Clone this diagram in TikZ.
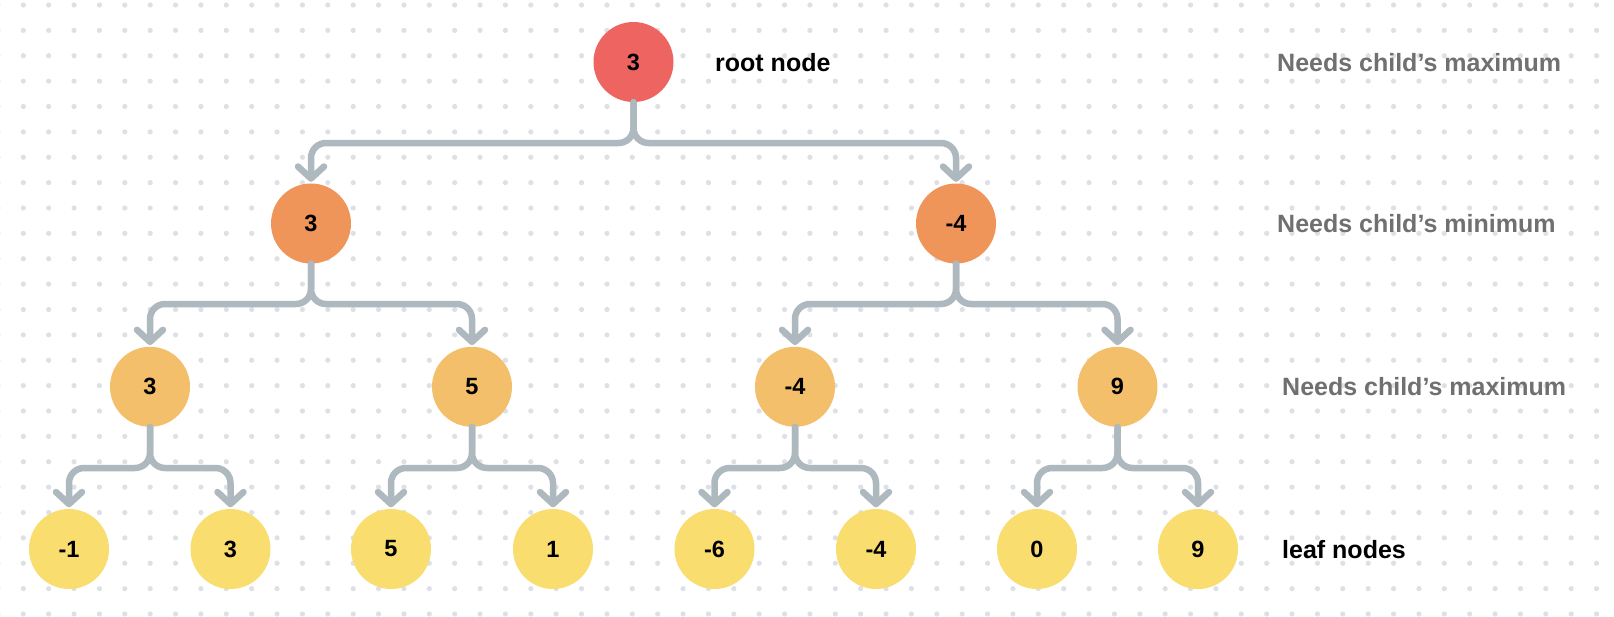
\documentclass[tikz,border=0pt]{standalone}
\usepackage{fontspec}
\setmainfont{Liberation Sans}
\usetikzlibrary{arrows.meta}

\definecolor{dotgray}{HTML}{DDE0E7}
\definecolor{linkgray}{HTML}{AEB8BF}
\definecolor{labelgray}{HTML}{707070}
\definecolor{rootfill}{HTML}{EE6461}
\definecolor{minfill}{HTML}{F0955A}
\definecolor{maxfill}{HTML}{F3BF6A}
\definecolor{leaffill}{HTML}{F9DD6F}

\tikzset{
  treenode/.style={circle, draw=none, minimum size=80pt, inner sep=0pt,
    font=\bfseries\fontsize{23.5}{23.5}\selectfont, text=black},
  link/.style={draw=linkgray, line width=6.5pt, rounded corners=15pt,
    line cap=round, -{Straight Barb[length=12pt,width=26pt,round]}},
  sidelabel/.style={anchor=base west, inner sep=0pt,
    font=\bfseries\fontsize{25}{25}\selectfont},
}

\begin{document}
\begin{tikzpicture}[x=1pt,y=-1pt]
  \useasboundingbox (0,0) rectangle (1614,616);
  \fill[white] (0,0) rectangle (1614,616);

  % dotted background grid
  \foreach \i in {-1,...,63}
    \foreach \j in {0,...,24}
      \fill[dotgray] (23.3+25.375*\i, 5+25.375*\j) circle (2.6pt);

  % root
  \node[treenode, fill=rootfill] (r) at (633.5,62) {3};
  % level 1 (min)
  \node[treenode, fill=minfill] (a) at (311,223.5) {3};
  \node[treenode, fill=minfill] (b) at (956,223.5) {-4};
  % level 2 (max)
  \node[treenode, fill=maxfill] (c) at (150,386.8) {3};
  \node[treenode, fill=maxfill] (d) at (472,386.8) {5};
  \node[treenode, fill=maxfill] (e) at (795,386.8) {-4};
  \node[treenode, fill=maxfill] (f) at (1117.5,386.8) {9};
  % leaves
  \node[treenode, fill=leaffill] (l1) at (69,549) {-1};
  \node[treenode, fill=leaffill] (l2) at (230.5,549) {3};
  \node[treenode, fill=leaffill] (l3) at (391,549) {5};
  \node[treenode, fill=leaffill] (l4) at (553,549) {1};
  \node[treenode, fill=leaffill] (l5) at (714.5,549) {-6};
  \node[treenode, fill=leaffill] (l6) at (876,549) {-4};
  \node[treenode, fill=leaffill] (l7) at (1037,549) {0};
  \node[treenode, fill=leaffill] (l8) at (1198,549) {9};

  % connectors: down from parent, across, down into child
  \foreach \p/\c/\h in {r/a/143, r/b/143,
                        a/c/304, a/d/304, b/e/304, b/f/304,
                        c/l1/468, c/l2/468, d/l3/468, d/l4/468,
                        e/l5/468, e/l6/468, f/l7/468, f/l8/468}
    \draw[link] (\p.south) -- (\p.south |- 0,\h) -| ([yshift=1.5pt]\c.north);

  % side labels
  \node[sidelabel] (rootlbl) at (715,71) {root node};
  \node[sidelabel, text=labelgray] (row0) at (1277,71) {Needs child’s maximum};
  \node[sidelabel, text=labelgray] (row1) at (1277,232.7) {Needs child’s minimum};
  \node[sidelabel, text=labelgray] (row2) at (1282,395) {Needs child’s maximum};
  \node[sidelabel] (leaflbl) at (1282,558.3) {leaf nodes};
\end{tikzpicture}
\end{document}
